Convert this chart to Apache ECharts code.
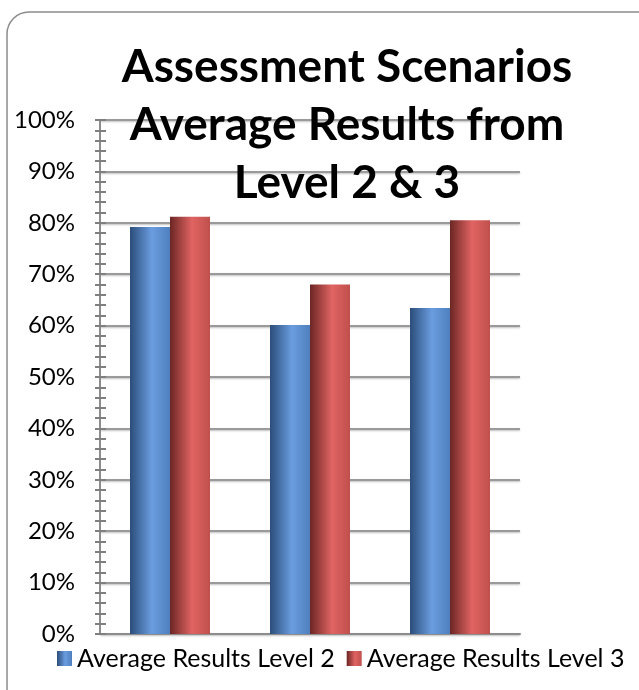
<!DOCTYPE html>
<html>
<head>
<meta charset="utf-8">
<script src="https://cdn.jsdelivr.net/npm/echarts@6/dist/echarts.min.js"></script>
<style>
  html, body { margin: 0; padding: 0; background: #fff; }
  #chart { width: 639px; height: 690px; }
</style>
</head>
<body>
<div id="chart"></div>
<script>
var categories = ['Scenario 1', 'Scenario 2', 'Scenario 3'];
var level2 = [79.2, 60.1, 63.4];
var level3 = [81.2, 68.0, 80.5];
var seriesNames = ['Average Results Level 2', 'Average Results Level 3'];

var myChart = echarts.init(document.getElementById('chart'));

function cyl(dark, light, mid) {
	return new echarts.graphic.LinearGradient(0, 0, 1, 0, [
		{ offset: 0, color: dark },
		{ offset: 0.55, color: light },
		{ offset: 1, color: mid }
	]);
}

var tickStyle = { color: '#7f7f7f', width: 2 };

var option = {
	backgroundColor: '#fff',
	textStyle: { fontFamily: 'Lato' },
	graphic: [{
		type: 'rect',
		shape: { x: 7, y: 12, width: 720, height: 720, r: 22 },
		style: { fill: 'none', stroke: '#8c8c8c', lineWidth: 1.5 },
		z: -1
	}],
	title: {
		text: 'Assessment Scenarios\nAverage Results from\nLevel 2 & 3',
		left: 342,
		textAlign: 'center',
		top: 33,
		textStyle: {
			fontFamily: 'Lato',
			fontSize: 46,
			fontWeight: 'bold',
			color: '#000',
			lineHeight: 58
		}
	},
	legend: {
		data: seriesNames,
		left: 57,
		top: 646,
		width: 620,
		padding: 0,
		itemWidth: 15,
		itemHeight: 15,
		itemGap: 12,
		icon: 'rect',
		textStyle: { fontSize: 25, color: '#000', fontFamily: 'Lato' }
	},
	grid: {
		left: 100,
		right: 119,
		top: 120,
		bottom: 56
	},
	xAxis: {
		type: 'category',
		data: categories,
		axisLine: { lineStyle: { color: '#8c8c8c', width: 2 } },
		axisTick: { show: false },
		axisLabel: { show: false }
	},
	yAxis: [{
		type: 'value',
		min: 0,
		max: 100,
		interval: 10,
		axisLine: { show: true, lineStyle: { color: '#8c8c8c', width: 2 } },
		axisTick: { show: true, length: 5, lineStyle: tickStyle },
		minorTick: { show: true, splitNumber: 5, length: 5, lineStyle: tickStyle },
		axisLabel: {
			formatter: '{value}%',
			fontSize: 24,
			color: '#000',
			margin: 25,
			fontFamily: 'Lato'
		},
		splitLine: {
			lineStyle: {
				color: '#9a9a9a',
				width: 2,
				shadowColor: 'rgba(0,0,0,0.25)',
				shadowBlur: 2,
				shadowOffsetY: 1
			}
		}
	}, {
		type: 'value',
		position: 'left',
		min: 0,
		max: 100,
		interval: 10,
		axisLine: { show: false },
		axisTick: { show: true, inside: true, length: 6, lineStyle: tickStyle },
		minorTick: { show: true, splitNumber: 5, length: 6, lineStyle: tickStyle },
		axisLabel: { show: false },
		splitLine: { show: false }
	}],
	series: [
		{
			name: seriesNames[0],
			type: 'bar',
			data: level2,
			barWidth: 40,
			barGap: '0%',
			color: '#4f81bd',
			itemStyle: { color: cyl('#2b4d7a', '#6a9de0', '#4f7fbd') }
		},
		{
			name: seriesNames[1],
			type: 'bar',
			data: level3,
			barWidth: 40,
			barGap: '0%',
			color: '#c0504d',
			itemStyle: { color: cyl('#6b2624', '#e06462', '#c0504d') }
		}
	]
};
myChart.setOption(option);
</script>
</body>
</html>
